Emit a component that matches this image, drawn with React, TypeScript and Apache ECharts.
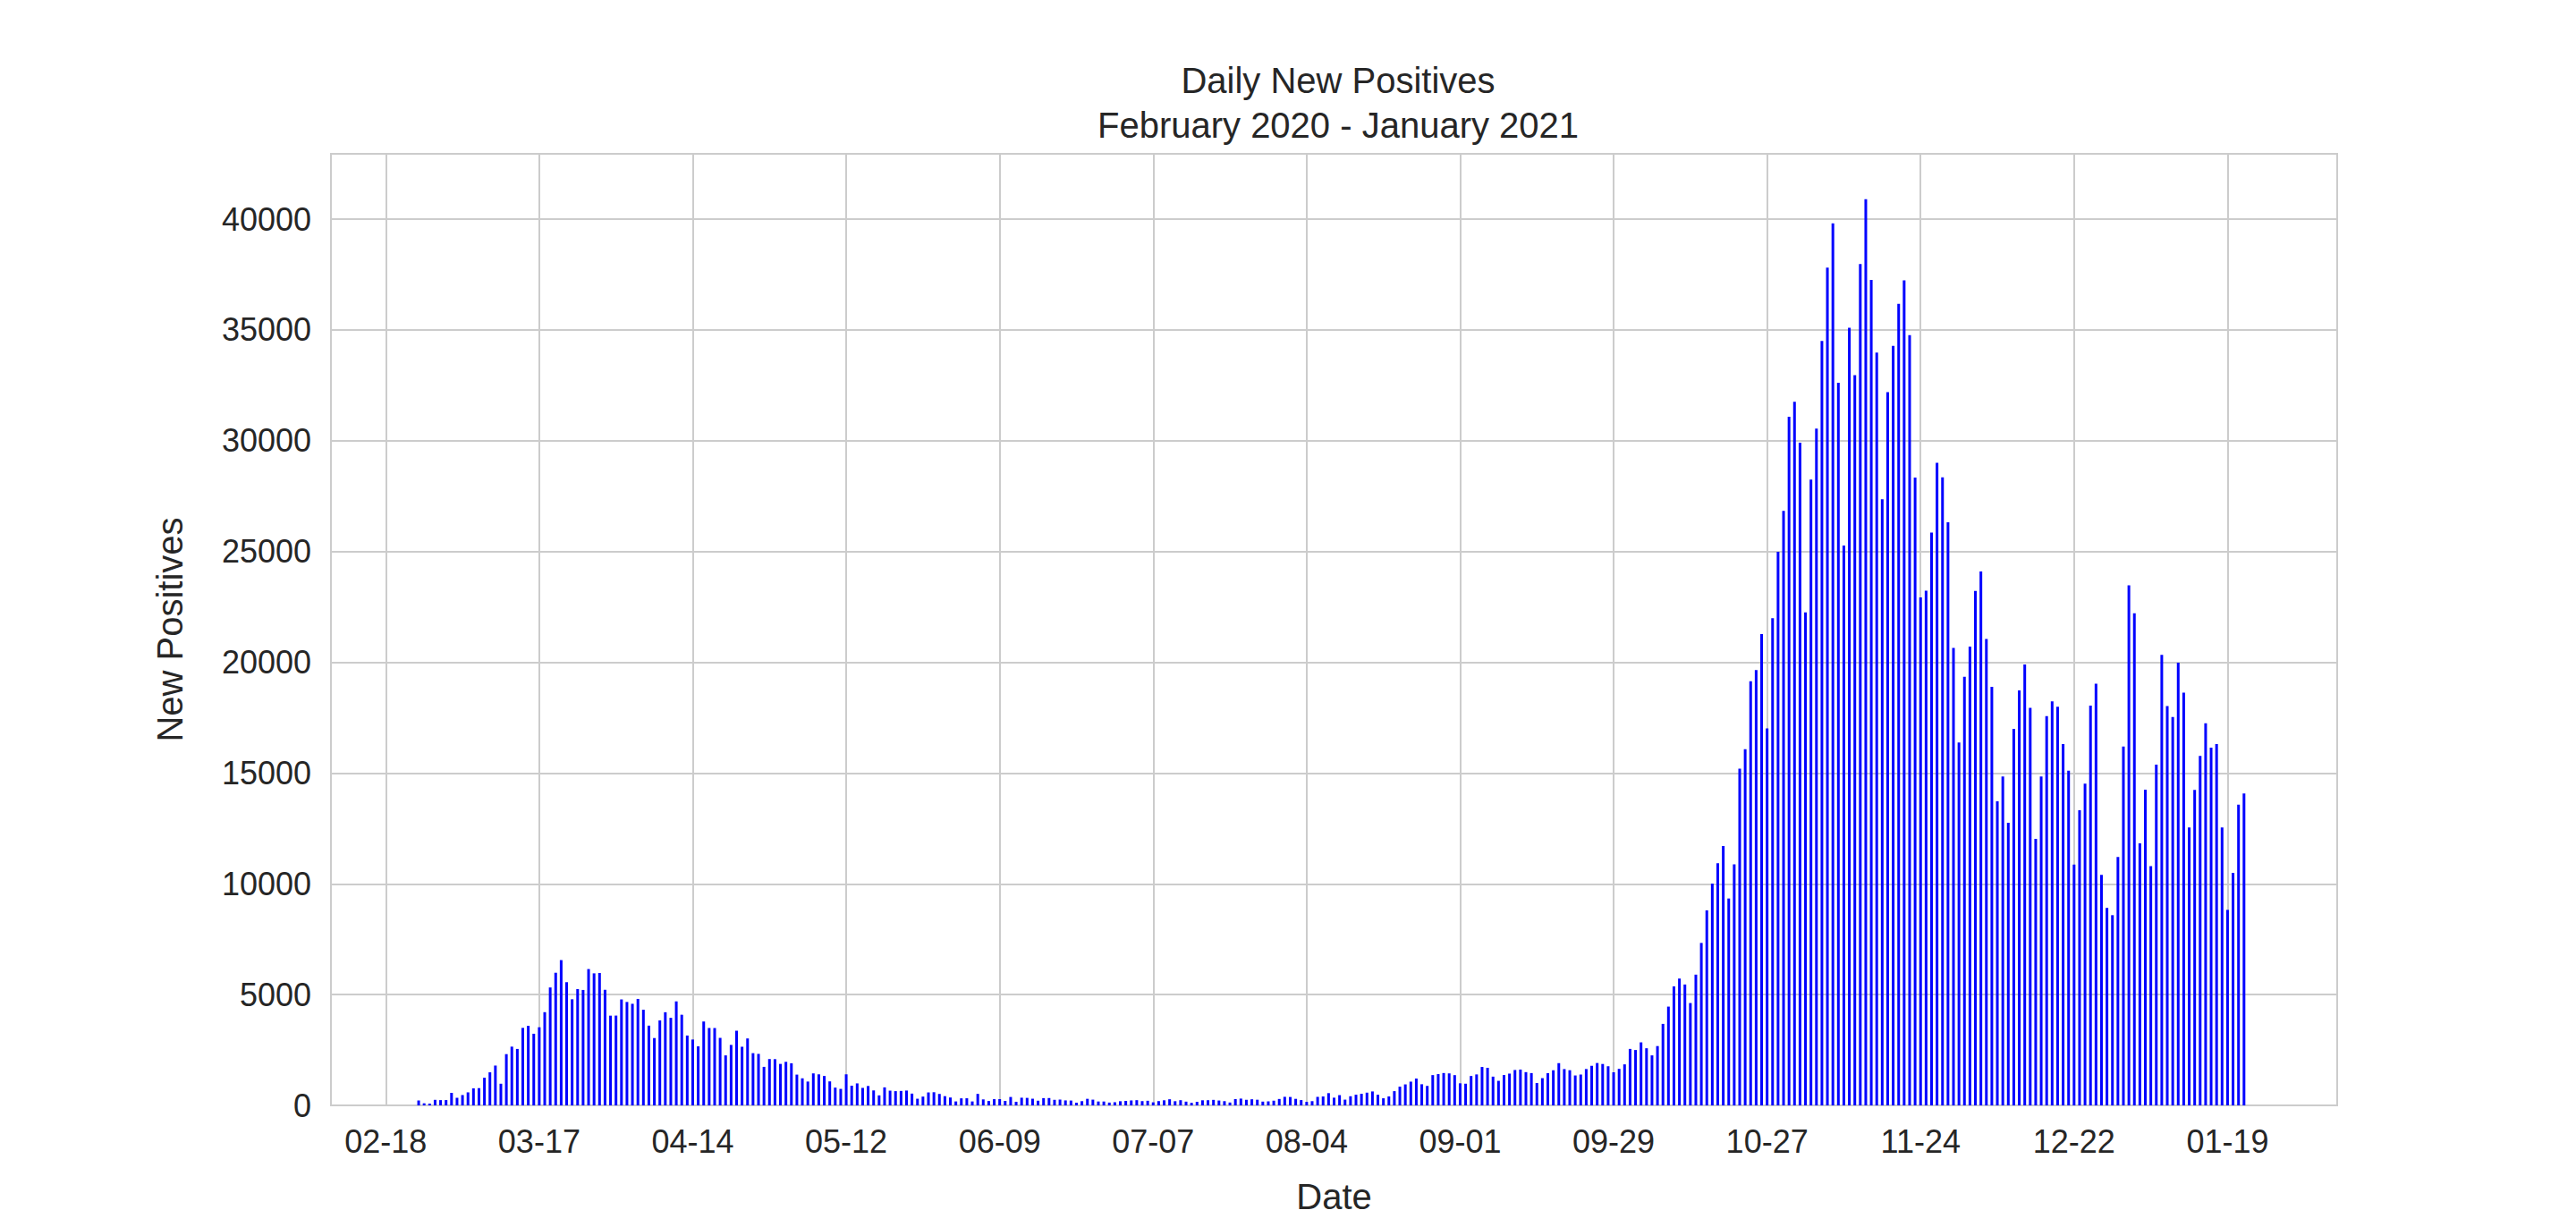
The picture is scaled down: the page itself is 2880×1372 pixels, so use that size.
import React, { useEffect, useRef } from "react";
import * as echarts from "echarts";

// daily new positives, 2020-02-24 .. 2021-01-22
const newPositives = [
  221, 93, 78, 250, 238, 240,
  566, 342, 466, 587, 769, 778, 1247, 1492, 1797, 977, 2313, 2651, 2547, 3497, 3590, 3233,
  3526, 4207, 5322, 5986, 6557, 5560, 4789, 5249, 5210, 6153, 5959, 5974, 5217, 4050, 4053,
  4782, 4668, 4585, 4805, 4316, 3599, 3039, 3836, 4204, 3951, 4694, 4092, 3153, 2972, 2667,
  3786, 3493, 3491, 3047, 2256, 2729, 3370, 2646, 3021, 2357, 2324, 1739, 2091, 2086, 1872,
  1965, 1900, 1389, 1221, 1075, 1444, 1401, 1327, 1083, 802, 744, 1402, 888, 992, 789, 875,
  675, 451, 813, 665, 642, 652, 669, 531, 300, 397, 584, 593, 516, 416, 355,
  178, 318, 321, 177, 518, 270, 197, 280, 283, 202, 379, 163, 346, 338, 301, 210, 328, 331,
  251, 262, 224, 218, 122, 190, 296, 259, 175, 174, 126, 142,
  187, 201, 223, 235, 192, 208, 138, 193, 229, 276, 188, 234, 169, 114, 162, 230, 233, 249,
  219, 190, 129, 282, 306, 252, 275, 255, 170, 181, 212, 289, 386,
  379, 295, 239, 159, 190, 384, 402, 552, 347, 463, 259, 412, 481, 523, 574, 629, 479, 320,
  403, 642, 845, 947, 1071, 1210, 953, 878, 1367, 1411, 1460, 1444, 1365,
  996, 978, 1326, 1397, 1733, 1695, 1297, 1108, 1370, 1434, 1597, 1616, 1501, 1458, 1008,
  1229, 1452, 1585, 1907, 1638, 1587, 1350, 1392, 1640, 1786, 1912, 1869, 1766, 1494, 1648,
  1851, 2548, 2499, 2844, 2578, 2257, 2677, 3678, 4458, 5372, 5724, 5456, 4619, 5901, 7332,
  8804, 10010, 10925, 11705, 9338, 10874, 15199, 16079, 19143, 19644, 21273, 17012, 21994,
  24991, 26831, 31084,
  31756, 29907, 22253, 28244, 30550, 34505, 37809, 39811, 32616, 25271, 35098, 32961, 37978,
  40902, 37255, 33979, 27354, 32191, 34283, 36176, 37242, 34767, 28337, 22930, 23232, 25853,
  29003, 28352, 26323, 20648,
  16377, 19350, 20709, 23225, 24099, 21052, 18887, 13720, 14842, 12756, 16999, 18727, 19903,
  17938, 12030, 14844, 17572, 18236, 17992, 16308, 15104, 10872, 13318, 14522, 18040, 19037,
  10407, 8913, 8585, 11212, 16202,
  23477, 22211, 11831, 14245, 10800, 15378, 20331, 18020, 17533, 19978, 18627, 12545, 14242,
  15774, 17246, 16146, 16310, 12545, 8825, 10497, 13571, 14078,
];

const axisStart = Date.UTC(2020, 1, 8);
const axisDays = 367;
const dataStartOffset = 16; // 2020-02-24
const firstTickOffset = 10; // 02-18
const tickStep = 28;

const dayMs = 86400000;
const categories: string[] = [];
for (let i = 0; i < axisDays; i++) {
  const d = new Date(axisStart + i * dayMs);
  const mm = String(d.getUTCMonth() + 1).padStart(2, "0");
  const dd = String(d.getUTCDate()).padStart(2, "0");
  categories.push(`${mm}-${dd}`);
}
const seriesData = categories.map((_, i) => {
  const k = i - dataStartOffset;
  return k >= 0 && k < newPositives.length ? newPositives[k] : null;
});
const isTick = (i: number) => i >= firstTickOffset && (i - firstTickOffset) % tickStep === 0;

const font = "Liberation Sans, Arial, sans-serif";

const App = () => {
  const chartRef = useRef<HTMLDivElement>(null);

  useEffect(() => {
    if (!chartRef.current) return;
    const chart = echarts.init(chartRef.current, undefined, { renderer: "svg" });

    chart.setOption({
      animation: false,
      backgroundColor: "#ffffff",
      title: {
        text: "Daily New Positives\nFebruary 2020 - January 2021",
        left: 1483,
        top: 52,
        textAlign: "center",
        textStyle: { fontFamily: font, fontSize: 40, fontWeight: "normal", color: "#262626", lineHeight: 50 },
      },
      grid: { left: 362, right: 275, top: 164, bottom: 144 },
      xAxis: {
        type: "category",
        data: categories,
        boundaryGap: false,
        name: "Date",
        nameLocation: "middle",
        nameGap: 82,
        nameTextStyle: { fontFamily: font, fontSize: 40, color: "#262626" },
        axisLine: { show: false },
        axisTick: { show: false },
        axisLabel: {
          interval: (i: number) => isTick(i),
          fontFamily: font,
          fontSize: 36,
          color: "#262626",
          margin: 22,
        },
        splitLine: {
          show: true,
          interval: (i: number) => isTick(i),
          lineStyle: { color: "#cccccc", width: 2 },
        },
      },
      yAxis: {
        type: "value",
        min: 0,
        max: 42950,
        interval: 5000,
        name: "New Positives",
        nameLocation: "middle",
        nameGap: 160,
        nameTextStyle: { fontFamily: font, fontSize: 40, color: "#262626" },
        axisLine: { show: false },
        axisTick: { show: false },
        axisLabel: {
          fontFamily: font,
          fontSize: 36,
          color: "#262626",
          margin: 22,
          formatter: (v: number) => (v > 40000 ? "" : String(v)),
        },
        splitLine: { lineStyle: { color: "#cccccc", width: 2 } },
      },
      graphic: [
        {
          type: "rect",
          shape: { x: 362, y: 164, width: 2880 - 362 - 275, height: 1372 - 164 - 144 },
          style: { fill: "none", stroke: "#cccccc", lineWidth: 2 },
          silent: true,
        },
      ],
      series: [
        {
          type: "bar",
          data: seriesData,
          barWidth: 3,
          itemStyle: { color: "#0000ff" },
        },
      ],
    });

    return () => chart.dispose();
  }, []);

  return <div ref={chartRef} style={{ width: 2880, height: 1372 }} />;
};

export default App;
